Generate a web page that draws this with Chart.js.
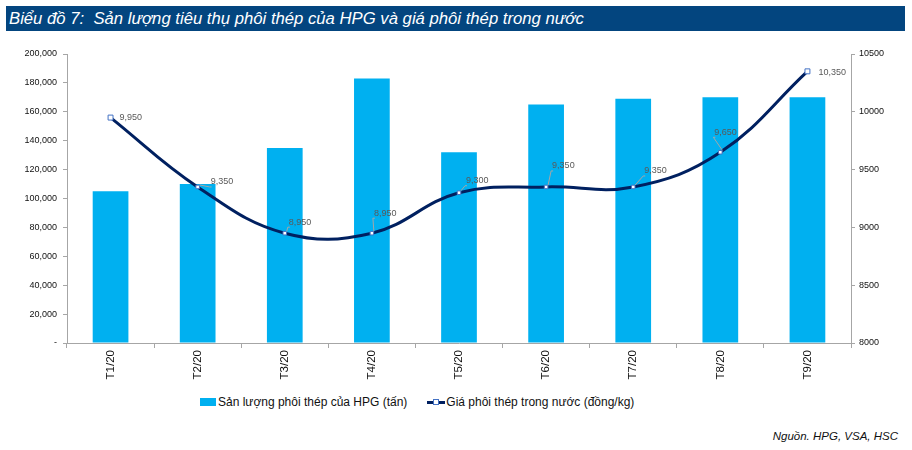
<!DOCTYPE html>
<html lang="vi">
<head>
    <meta charset="UTF-8">
    <title>Biểu đồ 7</title>
    <script src="https://cdn.jsdelivr.net/npm/chart.js"></script>
    <style>
        body {
            margin: 0;
            padding: 0;
            background: #fff;
            font-family: "Liberation Sans", Arial, sans-serif;
            width: 912px;
            height: 450px;
            position: relative;
            overflow: hidden;
        }

        .title-bar {
            position: absolute;
            left: 6px;
            top: 6px;
            width: 899px;
            height: 25px;
            background-color: #03457f;
            color: #fff;
            font-style: italic;
            font-size: 16.7px;
            line-height: 25px;
            padding-left: 3px;
            box-sizing: border-box;
        }

        .chart-box {
            position: absolute;
            left: 0;
            top: 40px;
            width: 912px;
            height: 345px;
        }

        .legend {
            position: absolute;
            top: 395px;
            left: 200px;
            font-size: 12px;
            color: #111;
            display: flex;
            align-items: center;
        }

        .legend .item {
            display: flex;
            align-items: center;
            margin-right: 20px;
        }

        .legend .swatch-bar {
            width: 16px;
            height: 8px;
            background: #00b0f0;
            margin-right: 2px;
        }

        .legend .swatch-line {
            position: relative;
            width: 18px;
            height: 3px;
            background: #002060;
            margin-right: 1px;
        }

        .legend .swatch-line span {
            position: absolute;
            left: 6px;
            top: -2px;
            width: 4px;
            height: 4px;
            background: #fff;
            border: 1px solid #4472c4;
        }

        .source {
            position: absolute;
            right: 14px;
            top: 430px;
            font-size: 11.5px;
            font-style: italic;
            color: #111;
        }
    </style>
</head>
<body>

<div class="title-bar">Biểu đồ 7:&nbsp; Sản lượng tiêu thụ phôi thép của HPG và giá phôi thép trong nước</div>

<div class="chart-box">
    <canvas id="mainCanvas" width="912" height="345"></canvas>
</div>

<div class="legend">
    <div class="item"><div class="swatch-bar"></div>Sản lượng phôi thép của HPG (tấn)</div>
    <div class="item"><div class="swatch-line"><span></span></div>Giá phôi thép trong nước (đồng/kg)</div>
</div>

<div class="source">Nguồn. HPG, VSA, HSC</div>

<script>
    const thang = ['T1/20', 'T2/20', 'T3/20', 'T4/20', 'T5/20', 'T6/20', 'T7/20', 'T8/20', 'T9/20'];
    const sanLuong = [105000, 110000, 135000, 183000, 132000, 165000, 169000, 170000, 170000];
    const giaPhoi = [9950, 9350, 8950, 8950, 9300, 9350, 9350, 9650, 10350];

    // vi tri nhan so lieu so voi diem (px)
    const nhanLech = [[7, 0], [11, -5], [2, -11], [0, -20], [5, -12], [4, -21], [9, -16], [-8, -20], [9, 1]];

    const nhanPlugin = {
        id: 'nhanGia',
        afterDatasetsDraw(chart) {
            const ctx = chart.ctx;
            const meta = chart.getDatasetMeta(1);
            ctx.save();
            ctx.font = '9px "Liberation Sans", Arial, sans-serif';
            ctx.fillStyle = '#595959';
            ctx.strokeStyle = '#a6a6a6';
            ctx.lineWidth = 1;
            ctx.textBaseline = 'middle';
            meta.data.forEach((pt, i) => {
                const dx = nhanLech[i][0];
                const dy = nhanLech[i][1];
                const tx = pt.x + dx;
                const ty = pt.y + dy;
                if (Math.abs(dy) > 4) {
                    ctx.beginPath();
                    ctx.moveTo(pt.x + 2, pt.y - 2);
                    ctx.lineTo(tx + 1, ty + 5);
                    ctx.lineTo(tx + 3, ty + 5);
                    ctx.stroke();
                }
                ctx.fillText(giaPhoi[i].toLocaleString('en-US'), tx + 2, ty);
            });
            ctx.restore();
        }
    };

    const tickFont = { family: '"Liberation Sans", Arial, sans-serif', size: 9 };

    new Chart(document.getElementById('mainCanvas'), {
        type: 'bar',
        data: {
            labels: thang,
            datasets: [
                {
                    type: 'bar',
                    label: 'Sản lượng phôi thép của HPG (tấn)',
                    data: sanLuong,
                    backgroundColor: '#00b0f0',
                    barPercentage: 0.41,
                    categoryPercentage: 1,
                    yAxisID: 'y',
                    order: 2
                },
                {
                    type: 'line',
                    label: 'Giá phôi thép trong nước (đồng/kg)',
                    data: giaPhoi,
                    borderColor: '#002060',
                    borderWidth: 3,
                    tension: 0.4,
                    pointStyle: 'rect',
                    pointRadius: ctx => (ctx.dataIndex === 0 || ctx.dataIndex === giaPhoi.length - 1) ? 3.5 : 2.5,
                    pointBackgroundColor: '#ffffff',
                    pointBorderColor: '#4472c4',
                    pointBorderWidth: 1,
                    yAxisID: 'y1',
                    order: 1
                }
            ]
        },
        options: {
            responsive: false,
            animation: false,
            layout: { padding: { top: 14, left: 0, right: 0, bottom: 0 } },
            plugins: {
                legend: { display: false },
                tooltip: { enabled: false }
            },
            scales: {
                x: {
                    grid: { display: true, drawOnChartArea: false, tickLength: 5, color: '#a6a6a6', offset: true },
                    border: { color: '#a6a6a6' },
                    ticks: {
                        minRotation: 90,
                        maxRotation: 90,
                        color: '#111',
                        font: { family: '"Liberation Sans", Arial, sans-serif', size: 11.5 },
                        padding: 2
                    },
                    afterFit(scale) { scale.height = 42; }
                },
                y: {
                    position: 'left',
                    min: 0,
                    max: 200000,
                    grid: { display: true, drawOnChartArea: false, tickLength: 4, color: '#a6a6a6' },
                    border: { color: '#a6a6a6' },
                    ticks: {
                        stepSize: 20000,
                        color: '#111',
                        font: tickFont,
                        padding: 6,
                        callback: v => v === 0 ? '-' : v.toLocaleString('en-US')
                    },
                    afterFit(scale) { scale.width = 67; }
                },
                y1: {
                    position: 'right',
                    min: 8000,
                    max: 10500,
                    grid: { display: true, drawOnChartArea: false, tickLength: 4, color: '#a6a6a6' },
                    border: { color: '#a6a6a6' },
                    ticks: {
                        stepSize: 500,
                        color: '#111',
                        font: tickFont,
                        padding: 4,
                        callback: v => String(v)
                    },
                    afterFit(scale) { scale.width = 61; }
                }
            }
        },
        plugins: [nhanPlugin]
    });
</script>
</body>
</html>
